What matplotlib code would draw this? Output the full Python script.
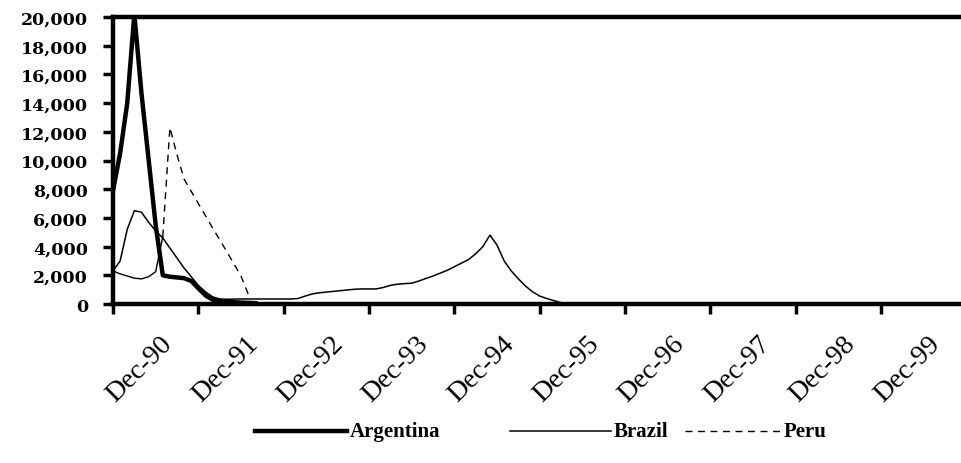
import matplotlib

matplotlib.use("Agg")
import matplotlib.pyplot as plt
import matplotlib.transforms as mtransforms
from matplotlib.lines import Line2D

# %%
## Data: 12-month inflation, monthly observations (month 0 = first category)
tick_months = [0, 12, 24, 36, 48, 60, 72, 84, 96, 108]
tick_labels = [
    "Dec-90", "Dec-91", "Dec-92", "Dec-93", "Dec-94",
    "Dec-95", "Dec-96", "Dec-97", "Dec-98", "Dec-99",
]
y_ticks = [0, 2000, 4000, 6000, 8000, 10000, 12000, 14000, 16000, 18000, 20000]

argentina = [
    7900, 10500, 14000, 20200, 14700, 10100, 5500, 2000, 1900, 1850, 1800,
    1600, 1100, 600, 300, 200, 150, 120, 100, 80, 60,
]
brazil = [
    2300, 3000, 5200, 6500, 6400, 5700, 5100, 4600, 3900, 3200, 2500,
    1900, 1300, 850, 500, 350, 330, 340, 350, 350, 350, 350,
    350, 350, 350, 350, 380, 550, 700, 780, 830, 880, 930,
    980, 1030, 1050, 1050, 1050, 1150, 1300, 1380, 1420, 1450,
    1600, 1780, 1950, 2150, 2350, 2600, 2850, 3100, 3500, 4000,
    4800, 4100, 3000, 2300, 1750, 1250, 850, 550, 380, 230, 100,
]
peru = [
    2300, 2100, 1950, 1800, 1750, 1900, 2250, 4700, 12300, 10400, 8700,
    7850, 7000, 6160, 5300, 4480, 3640, 2800, 1950, 700,
]
PERU_SOLID_END = 7  # early part of the Peru series prints solid in the original

# %%
SERIF = ["Liberation Serif", "DejaVu Serif"]

fig = plt.figure(figsize=(9.61, 4.64), dpi=100)
ax = fig.add_axes([113 / 961, 1 - 305 / 464, 1 - 113 / 961 + 0.002, 287 / 464])

ax.plot(range(len(brazil)), brazil, color="black", lw=1.1, solid_joinstyle="round")
ax.plot(
    range(PERU_SOLID_END + 1), peru[: PERU_SOLID_END + 1], color="black", lw=1.0
)
ax.plot(
    range(PERU_SOLID_END, len(peru)),
    peru[PERU_SOLID_END:],
    color="black",
    lw=1.0,
    dashes=(5, 4),
)
ax.plot(range(len(argentina)), argentina, color="black", lw=3.2, solid_joinstyle="round")

ax.set_xlim(0, 119.5)
ax.set_ylim(0, 20000)

for side in ["left", "bottom", "top"]:
    ax.spines[side].set_linewidth(3.2)
ax.spines["right"].set_visible(False)

ax.set_yticks(y_ticks)
ax.set_yticklabels([f"{v:,}" for v in y_ticks])
ax.tick_params(axis="y", direction="out", length=7, width=2.5, pad=11)
for lab in ax.get_yticklabels():
    lab.set_family(["DejaVu Serif"])
    lab.set_weight("bold")
    lab.set_fontsize(12.5)

ax.set_xticks(tick_months)
ax.set_xticklabels(tick_labels)
ax.tick_params(axis="x", direction="out", length=7, width=2.5, pad=12)
offset = mtransforms.ScaledTranslation(-11 / 100, 0, fig.dpi_scale_trans)
for lab in ax.get_xticklabels():
    lab.set_family(SERIF)
    lab.set_fontsize(20)
    lab.set_rotation(45)
    lab.set_ha("left")
    lab.set_va("top")
    lab.set_transform(lab.get_transform() + offset)

# %%
## Legend drawn along the bottom like the original
leg_y = 1 - 432 / 464
entries = [
    (255, 347, dict(lw=3.2), "Argentina"),
    (510, 611, dict(lw=1.1), "Brazil"),
    (685, 781, dict(lw=1.0, dashes=(5, 4)), "Peru"),
]
for x0, x1, style, name in entries:
    fig.add_artist(
        Line2D([x0 / 961, x1 / 961], [leg_y, leg_y], color="black", **style)
    )
    fig.text(
        (x1 + 3) / 961,
        leg_y,
        name,
        family=SERIF,
        weight="bold",
        fontsize=15,
        va="center",
        ha="left",
    )

fig.savefig("out.png", dpi=100)
